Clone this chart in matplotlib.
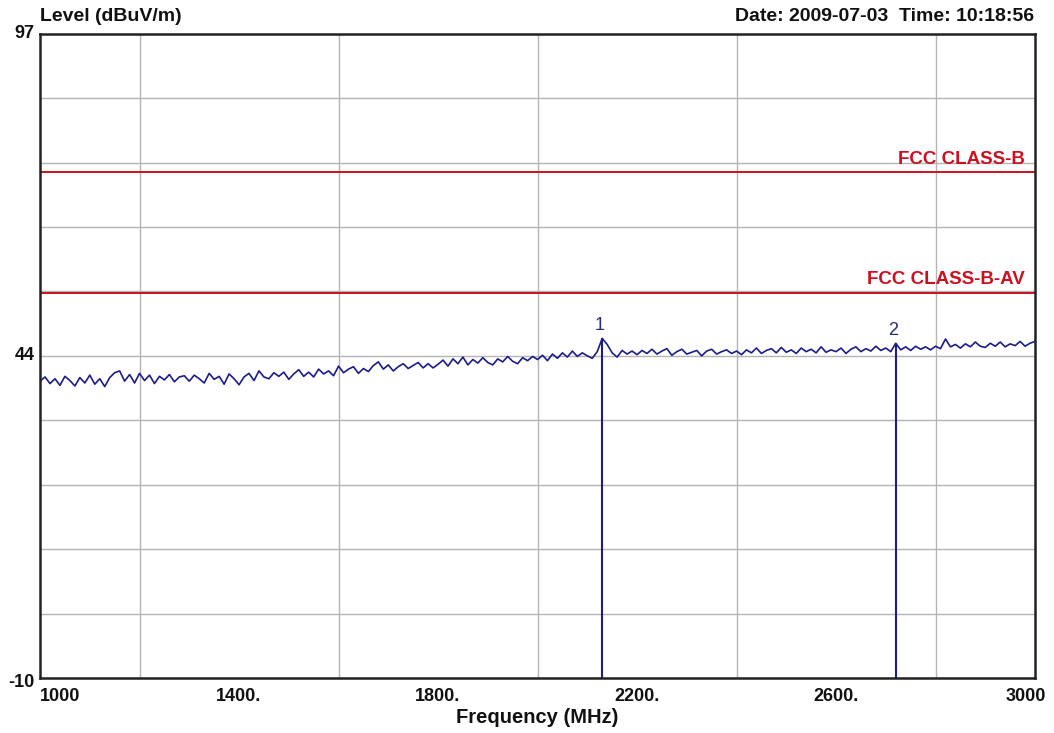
"""Radiated emission scan, 1-3 GHz, with FCC Class B limit lines and two markers."""

import matplotlib

matplotlib.use("Agg")
import matplotlib.pyplot as plt
import numpy as np

plt.rcParams["font.family"] = ["Liberation Sans", "DejaVu Sans"]

# sweep grid (MHz) and measured level (dBuV/m), 10 MHz step
freq_mhz = np.arange(1000, 3001, 10)
level = [
    39.3, 40.0, 38.9, 39.7, 38.6, 40.1, 39.4, 38.5, 39.9, 39.0,
    40.3, 38.8, 39.7, 38.4, 39.9, 40.7, 41.0, 39.3, 40.4, 39.0,
    40.6, 39.4, 40.3, 38.9, 40.1, 39.5, 40.4, 39.2, 40.0, 40.2,
    39.3, 40.3, 39.7, 39.0, 40.6, 39.6, 40.1, 38.8, 40.5, 39.7,
    38.7, 40.0, 40.6, 39.4, 41.0, 40.0, 39.7, 40.7, 40.1, 40.8,
    39.6, 40.5, 41.2, 40.1, 40.8, 40.0, 41.3, 40.5, 41.0, 40.2,
    41.8, 40.7, 41.3, 41.7, 40.6, 41.4, 40.9, 41.9, 42.5, 41.3,
    42.0, 41.0, 41.7, 42.2, 41.4, 41.9, 42.4, 41.5, 42.2, 41.5,
    42.1, 42.8, 41.8, 43.0, 42.2, 43.3, 42.0, 42.9, 42.3, 43.2,
    42.4, 42.0, 43.0, 42.5, 43.4, 42.6, 42.2, 43.2, 42.7, 43.4,
    42.9, 43.6, 42.7, 43.8, 43.1, 44.0, 43.3, 44.3, 43.4, 44.0,
    43.5, 43.1, 44.2, 46.4, 45.4, 44.0, 43.3, 44.4, 43.8, 44.3,
    43.7, 44.4, 43.9, 44.6, 43.8, 44.3, 44.7, 43.6, 44.2, 44.6,
    43.8, 44.1, 44.4, 43.5, 44.3, 44.6, 43.8, 44.2, 44.5, 43.9,
    44.3, 43.7, 44.5, 44.0, 44.8, 43.9, 44.4, 44.7, 44.0, 44.9,
    44.1, 44.5, 43.9, 44.8, 44.2, 44.6, 44.0, 45.0, 44.1, 44.5,
    44.2, 44.8, 43.9, 44.6, 45.0, 44.2, 44.7, 44.3, 45.1, 44.4,
    44.8, 44.2, 45.6, 44.5, 45.0, 44.4, 45.1, 44.6, 45.0, 44.5,
    45.1, 44.7, 46.3, 45.0, 45.4, 44.8, 45.5, 45.0, 45.8, 45.1,
    44.9, 45.6, 45.1, 45.8, 45.0, 45.5, 45.2, 45.9, 45.1, 45.6,
    45.9,
]

limit_names = ["FCC CLASS-B", "FCC CLASS-B-AV"]
limit_levels = [74.0, 54.0]

marker_ids = ["1", "2"]
marker_freq = [2130, 2720]
marker_level = [46.4, 45.6]

y_min, y_max = -10, 97
x_ticks = [1000, 1400, 1800, 2200, 2600, 3000]
x_tick_labels = ["1000", "1400.", "1800.", "2200.", "2600.", "3000"]

TRACE = "#1c1c8a"
LIMIT = "#cc1020"

fig = plt.figure(figsize=(10.54, 7.33), dpi=100)
ax = fig.add_axes([0.038, 0.075, 0.944, 0.879])

ax.set_xlim(1000, 3000)
ax.set_ylim(y_min, y_max)

# 10 x 10 grid
ax.set_xticks(np.linspace(1000, 3000, 11), minor=True)
ax.set_yticks(np.linspace(y_min, y_max, 11), minor=True)
ax.grid(True, which="minor", color="#b4b4b4", linewidth=1.0)
ax.set_axisbelow(True)

ax.set_xticks(x_ticks)
ax.set_xticklabels([])
ax.set_yticks([])
ax.tick_params(which="both", length=0)
for spine in ax.spines.values():
    spine.set_linewidth(1.8)
    spine.set_color("#222222")

ax.plot(freq_mhz, level, color=TRACE, linewidth=1.2)

for name, lvl in zip(limit_names, limit_levels):
    ax.axhline(lvl, color=LIMIT, linewidth=1.4)
    ax.annotate(name, xy=(0.99, lvl), xycoords=("axes fraction", "data"),
                xytext=(0, 3), textcoords="offset points",
                ha="right", va="bottom", color=LIMIT,
                fontsize=13.5, fontweight="bold")

for mid, f, lvl in zip(marker_ids, marker_freq, marker_level):
    ax.vlines(f, y_min, lvl, color=TRACE, linewidth=1.5)
    ax.annotate(mid, xy=(f, lvl), xytext=(-2, 3), textcoords="offset points",
                ha="center", va="bottom", color="#2a2a7a", fontsize=13)

# analyzer-style labels outside the plot
bold = dict(fontsize=13, fontweight="bold", color="#111111")
for x, lab in zip(x_ticks, x_tick_labels):
    ha = "left" if x == 1000 else "center"
    xx = 3000 - 18 if x == 3000 else x
    ax.annotate(lab, xy=(xx, y_min), xytext=(0, -7), textcoords="offset points",
                ha=ha, va="top", **bold)
for val, lab, dy in [(y_max, "97", 0), ((y_max + y_min) / 2, "44", 0), (y_min, "-10", -3)]:
    ax.annotate(lab, xy=(1000, val), xytext=(-4, dy), textcoords="offset points",
                ha="right", va="center", **bold)

fig.text(0.038, 0.978, "Level (dBuV/m)", ha="left", va="center",
         fontsize=14, fontweight="bold", color="#111111")
fig.text(0.981, 0.978, "Date: 2009-07-03  Time: 10:18:56", ha="right", va="center",
         fontsize=14, fontweight="bold", color="#111111")
fig.text(0.51, 0.021, "Frequency (MHz)", ha="center", va="center",
         fontsize=14.5, fontweight="bold", color="#111111")

fig.savefig("out.png", dpi=100)
